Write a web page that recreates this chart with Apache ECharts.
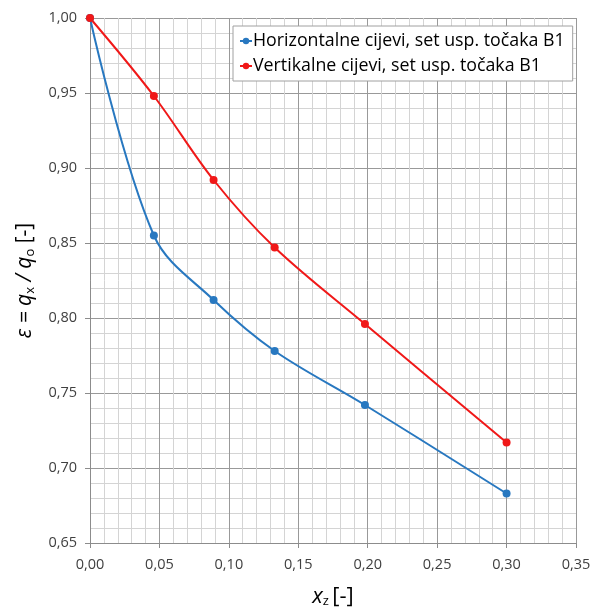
<!DOCTYPE html>
<html><head><meta charset="utf-8">
<script src="https://cdn.jsdelivr.net/npm/echarts@6/dist/echarts.min.js"></script>
<style>html,body{margin:0;padding:0;background:#fff}#c{width:599px;height:609px}</style>
</head><body><div id="c"></div>
<script>
const seriesNames = ['Horizontalne cijevi, set usp. točaka B1', 'Vertikalne cijevi, set usp. točaka B1'];
const xHoriz = [0, 0.046, 0.089, 0.133, 0.198, 0.300];
const yHoriz = [1.000, 0.855, 0.812, 0.778, 0.742, 0.683];
const xVert = [0, 0.046, 0.089, 0.133, 0.198, 0.300];
const yVert = [1.000, 0.948, 0.892, 0.847, 0.796, 0.717];
const colors = ['#2878c0', '#f01818'];

const fmt = v => v.toFixed(2).replace('.', ',');
const chart = echarts.init(document.getElementById('c'), null, {renderer: 'canvas'});
const font = 'Open Sans';
function axisCommon(margin) {
  return {
    axisLine: {show: true, lineStyle: {color: '#8c8c8c', width: 1}},
    axisTick: {show: true, length: 5, lineStyle: {color: '#8c8c8c'}},
    splitLine: {show: true, lineStyle: {color: '#999999', width: 1}},
    minorTick: {show: false, splitNumber: 5},
    minorSplitLine: {show: true, lineStyle: {color: '#d4d4d4', width: 1}},
    axisLabel: {color: '#404040', fontSize: 14.5, fontFamily: font, formatter: fmt, margin: margin}
  };
}
chart.setOption({
  animation: false,
  backgroundColor: '#fff',
  grid: {left: 90, right: 23, top: 18, bottom: 66, containLabel: false, outerBoundsMode: 'none'},
  legend: {
    orient: 'vertical', left: 233, top: 26, width: 338,
    backgroundColor: '#fff', borderColor: '#a0a0a0', borderWidth: 1,
    padding: [6, 8, 6, 6], itemGap: 7, itemWidth: 12, itemHeight: 8,
    textStyle: {fontSize: 17.8, fontFamily: font, color: '#000', padding: [0, 0, 0, -4]},
    data: seriesNames
  },
  xAxis: Object.assign({
    type: 'value', min: 0, max: 0.35, interval: 0.05,
    name: '{i|x}{s|z} {n|[-]}', nameLocation: 'middle', nameGap: 42,
    nameTextStyle: {rich: {
      i: {fontSize: 22, fontStyle: 'italic', fontFamily: font, color: '#000'},
      s: {fontSize: 13, fontFamily: font, color: '#000', padding: [10, 0, 0, 0]},
      n: {fontSize: 22, fontFamily: font, color: '#000'}
    }}
  }, axisCommon(14)),
  yAxis: Object.assign({
    type: 'value', min: 0.65, max: 1.0, interval: 0.05,
    name: '{i|ε = q}{s|x}{i| / q}{s|o}{n| [-]}', nameLocation: 'middle', nameGap: 53, nameRotate: 90,
    nameTextStyle: {rich: {
      i: {fontSize: 21, fontStyle: 'italic', fontFamily: font, color: '#000'},
      s: {fontSize: 13, fontFamily: font, color: '#000', padding: [10, 0, 0, 0]},
      n: {fontSize: 21, fontFamily: font, color: '#000'}
    }}
  }, axisCommon(13)),
  series: [
    {name: seriesNames[0], type: 'line', smooth: 0.35, data: xHoriz.map((x, i) => [x, yHoriz[i]]),
     symbol: 'circle', symbolSize: 8, lineStyle: {width: 2, color: colors[0]}, itemStyle: {color: colors[0]}},
    {name: seriesNames[1], type: 'line', smooth: 0.35, data: xVert.map((x, i) => [x, yVert[i]]),
     symbol: 'circle', symbolSize: 8, lineStyle: {width: 2, color: colors[1]}, itemStyle: {color: colors[1]}}
  ]
});
</script></body></html>
